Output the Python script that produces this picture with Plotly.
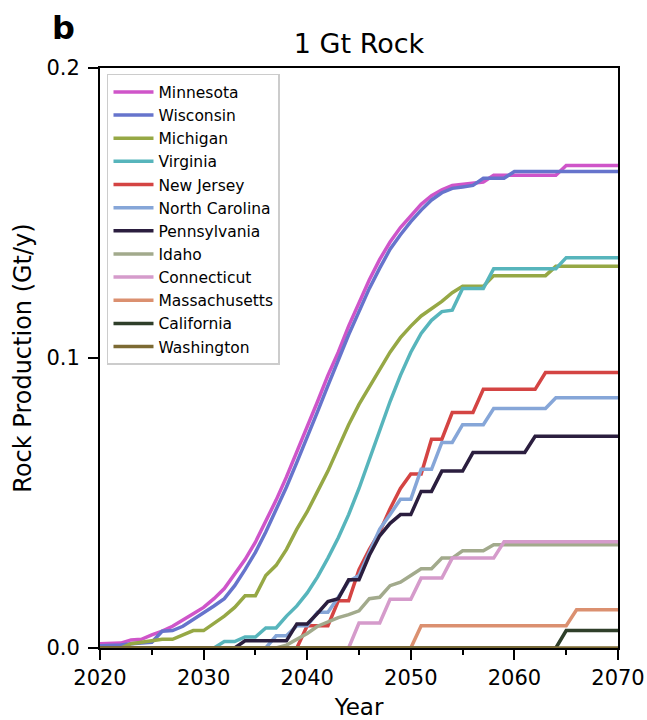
import plotly.graph_objects as go

years = list(range(2020, 2071))

minnesota = [0.0015, 0.0015, 0.0017, 0.0028, 0.0030, 0.0045, 0.0058, 0.0075, 0.0098, 0.0118,
             0.0140, 0.0170, 0.0205, 0.0255, 0.0305, 0.0365, 0.0435, 0.0510, 0.0590, 0.0675,
             0.0760, 0.0850, 0.0940, 0.1020, 0.1110, 0.1190, 0.1270, 0.1340, 0.1400, 0.1450,
             0.1490, 0.1530, 0.1560, 0.1580, 0.1595, 0.1600, 0.1605, 0.1607, 0.1630, 0.1630,
             0.1630, 0.1630, 0.1630, 0.1630, 0.1630, 0.1664, 0.1664, 0.1664, 0.1664, 0.1664,
             0.1664]
wisconsin = [0.0008, 0.0008, 0.0010, 0.0015, 0.0018, 0.0020, 0.0058, 0.0060, 0.0075, 0.0098,
             0.0120, 0.0145, 0.0170, 0.0215, 0.0270, 0.0330, 0.0400, 0.0475, 0.0555, 0.0640,
             0.0725, 0.0815, 0.0905, 0.0995, 0.1080, 0.1160, 0.1240, 0.1310, 0.1375, 0.1425,
             0.1470, 0.1510, 0.1545, 0.1570, 0.1585, 0.1590, 0.1595, 0.1620, 0.1620, 0.1620,
             0.1643, 0.1643, 0.1643, 0.1643, 0.1643, 0.1643, 0.1643, 0.1643, 0.1643, 0.1643,
             0.1643]
michigan = [0.0, 0.0, 0.0, 0.0015, 0.0020, 0.0025, 0.0030, 0.0030, 0.0045, 0.0060,
            0.0060, 0.0085, 0.0110, 0.0140, 0.0180, 0.0180, 0.0250, 0.0285, 0.0340, 0.0410,
            0.0470, 0.0540, 0.0610, 0.0690, 0.0770, 0.0840, 0.0900, 0.0965, 0.1020, 0.1070,
            0.1110, 0.1145, 0.1170, 0.1195, 0.1225, 0.1247, 0.1247, 0.1247, 0.1284, 0.1284,
            0.1284, 0.1284, 0.1284, 0.1284, 0.1316, 0.1316, 0.1316, 0.1316, 0.1316, 0.1316,
            0.1316]
virginia = [0.0, 0.0, 0.0, 0.0, 0.0, 0.0, 0.0, 0.0, 0.0, 0.0,
            0.0, 0.0, 0.0022, 0.0022, 0.0038, 0.0038, 0.0069, 0.0069, 0.0110, 0.0145,
            0.0190, 0.0245, 0.0310, 0.0380, 0.0460, 0.0550, 0.0650, 0.0750, 0.0850, 0.0940,
            0.1020, 0.1085, 0.1130, 0.1160, 0.1165, 0.1240, 0.1240, 0.1240, 0.1308, 0.1308,
            0.1308, 0.1308, 0.1308, 0.1308, 0.1308, 0.1346, 0.1346, 0.1346, 0.1346, 0.1346,
            0.1346]
new_jersey = [0.0, 0.0, 0.0, 0.0, 0.0, 0.0, 0.0, 0.0, 0.0, 0.0,
              0.0, 0.0, 0.0, 0.0, 0.0, 0.0, 0.0, 0.0, 0.0, 0.0,
              0.0077, 0.0077, 0.0077, 0.0163, 0.0163, 0.0270, 0.0340, 0.0400, 0.0480, 0.0550,
              0.0600, 0.0600, 0.0720, 0.0720, 0.0812, 0.0812, 0.0812, 0.0892, 0.0892, 0.0892,
              0.0892, 0.0892, 0.0892, 0.0950, 0.0950, 0.0950, 0.0950, 0.0950, 0.0950, 0.0950,
              0.0950]
north_carolina = [0.0, 0.0, 0.0, 0.0, 0.0, 0.0, 0.0, 0.0, 0.0, 0.0,
                  0.0, 0.0, 0.0, 0.0, 0.0, 0.0, 0.0, 0.0042, 0.0042, 0.0077,
                  0.0077, 0.0123, 0.0123, 0.0175, 0.0230, 0.0250, 0.0330, 0.0410, 0.0460, 0.0513,
                  0.0513, 0.0616, 0.0616, 0.0709, 0.0709, 0.0770, 0.0770, 0.0770, 0.0826, 0.0826,
                  0.0826, 0.0826, 0.0826, 0.0826, 0.0863, 0.0863, 0.0863, 0.0863, 0.0863, 0.0863,
                  0.0863]
pennsylvania = [0.0, 0.0, 0.0, 0.0, 0.0, 0.0, 0.0, 0.0, 0.0, 0.0,
                0.0, 0.0, 0.0, 0.0, 0.0025, 0.0025, 0.0025, 0.0025, 0.0025, 0.0083,
                0.0083, 0.0120, 0.0160, 0.0170, 0.0235, 0.0235, 0.0320, 0.0387, 0.0430, 0.0460,
                0.0460, 0.0540, 0.0540, 0.0610, 0.0610, 0.0610, 0.0674, 0.0674, 0.0674, 0.0674,
                0.0674, 0.0674, 0.0730, 0.0730, 0.0730, 0.0730, 0.0730, 0.0730, 0.0730, 0.0730,
                0.0730]
idaho = [0.0, 0.0, 0.0, 0.0, 0.0, 0.0, 0.0, 0.0, 0.0, 0.0,
         0.0, 0.0, 0.0, 0.0, 0.0, 0.0, 0.0, 0.0, 0.0010, 0.0030,
         0.0050, 0.0075, 0.0090, 0.0105, 0.0115, 0.0128, 0.0170, 0.0175, 0.0215, 0.0227,
         0.0250, 0.0273, 0.0273, 0.0310, 0.0310, 0.0335, 0.0335, 0.0335, 0.0356, 0.0356,
         0.0356, 0.0356, 0.0356, 0.0356, 0.0356, 0.0356, 0.0356, 0.0356, 0.0356, 0.0356,
         0.0356]
connecticut = [0.0, 0.0, 0.0, 0.0, 0.0, 0.0, 0.0, 0.0, 0.0, 0.0,
               0.0, 0.0, 0.0, 0.0, 0.0, 0.0, 0.0, 0.0, 0.0, 0.0,
               0.0, 0.0, 0.0, 0.0, 0.0, 0.0086, 0.0086, 0.0086, 0.0168, 0.0168,
               0.0168, 0.0241, 0.0241, 0.0241, 0.0310, 0.0310, 0.0310, 0.0310, 0.0310, 0.0366,
               0.0366, 0.0366, 0.0366, 0.0366, 0.0366, 0.0366, 0.0366, 0.0366, 0.0366, 0.0366,
               0.0366]
massachusetts = [0.0, 0.0, 0.0, 0.0, 0.0, 0.0, 0.0, 0.0, 0.0, 0.0,
                 0.0, 0.0, 0.0, 0.0, 0.0, 0.0, 0.0, 0.0, 0.0, 0.0,
                 0.0, 0.0, 0.0, 0.0, 0.0, 0.0, 0.0, 0.0, 0.0, 0.0,
                 0.0, 0.0077, 0.0077, 0.0077, 0.0077, 0.0077, 0.0077, 0.0077, 0.0077, 0.0077,
                 0.0077, 0.0077, 0.0077, 0.0077, 0.0077, 0.0077, 0.0132, 0.0132, 0.0132, 0.0132,
                 0.0132]
california = [0.0, 0.0, 0.0, 0.0, 0.0, 0.0, 0.0, 0.0, 0.0, 0.0,
              0.0, 0.0, 0.0, 0.0, 0.0, 0.0, 0.0, 0.0, 0.0, 0.0,
              0.0, 0.0, 0.0, 0.0, 0.0, 0.0, 0.0, 0.0, 0.0, 0.0,
              0.0, 0.0, 0.0, 0.0, 0.0, 0.0, 0.0, 0.0, 0.0, 0.0,
              0.0, 0.0, 0.0, 0.0, 0.0, 0.0060, 0.0060, 0.0060, 0.0060, 0.0060,
              0.0060]
washington = [0.0, 0.0, 0.0, 0.0, 0.0, 0.0, 0.0, 0.0, 0.0, 0.0,
              0.0, 0.0, 0.0, 0.0, 0.0, 0.0, 0.0, 0.0, 0.0, 0.0,
              0.0, 0.0, 0.0, 0.0, 0.0, 0.0, 0.0, 0.0, 0.0, 0.0,
              0.0, 0.0, 0.0, 0.0, 0.0, 0.0, 0.0, 0.0, 0.0, 0.0,
              0.0, 0.0, 0.0, 0.0, 0.0, 0.0, 0.0, 0.0, 0.0, 0.0,
              0.0]

state_names = ["Minnesota", "Wisconsin", "Michigan", "Virginia", "New Jersey",
               "North Carolina", "Pennsylvania", "Idaho", "Connecticut",
               "Massachusetts", "California", "Washington"]
state_values = [minnesota, wisconsin, michigan, virginia, new_jersey, north_carolina,
                pennsylvania, idaho, connecticut, massachusetts, california, washington]
state_colors = ["#CF55C9", "#6674CC", "#96A845", "#57B5BC", "#D44443", "#86A6D8",
                "#2B1E3F", "#A2AA8C", "#D59BCB", "#DB9070", "#2F3F2A", "#7C6A33"]

FONT = "DejaVu Sans"

fig = go.Figure()
for name, vals, col in zip(state_names, state_values, state_colors):
    fig.add_trace(go.Scatter(x=years, y=vals, mode="lines", name=name,
                             legendgroup=name,
                             line=dict(color=col, width=3.5)))

fig.update_layout(
    width=647, height=720,
    margin=dict(l=100, r=29, t=68, b=72, autoexpand=False),
    paper_bgcolor="white", plot_bgcolor="white",
    font=dict(family=FONT, color="black"),
    title=dict(text="1 Gt Rock", x=359 / 647, xanchor="center",
               y=1 - 44 / 720, yanchor="middle", yref="container",
               font=dict(size=27, family=FONT, color="black")),
    showlegend=True,
    legend=dict(x=0.0135, y=0.99, xanchor="left", yanchor="top",
                bgcolor="white", bordercolor="#cccccc", borderwidth=1.5,
                font=dict(size=15.5, family=FONT, color="black"),
                tracegroupgap=0, itemwidth=40),
)

fig.update_xaxes(range=[2020, 2070], dtick=10, tick0=2020, automargin=False,
                 showgrid=False, zeroline=False,
                 showline=True, linecolor="black", linewidth=2, mirror=True,
                 ticks="outside", ticklen=10, tickwidth=2, tickcolor="black",
                 tickfont=dict(size=21, family=FONT), ticklabelstandoff=0,
                 minor=dict(dtick=5, ticks="outside", ticklen=5, tickwidth=2,
                            tickcolor="black", showgrid=False),
                 title=dict(text="Year", font=dict(size=23, family=FONT), standoff=10))
fig.update_yaxes(range=[0, 0.2], dtick=0.1, tick0=0, tickformat=".1f", automargin=False,
                 showgrid=False, zeroline=False,
                 showline=True, linecolor="black", linewidth=2, mirror=True,
                 ticks="outside", ticklen=10, tickwidth=2, tickcolor="black",
                 tickfont=dict(size=21, family=FONT), ticklabelstandoff=4,
                 title=dict(text="Rock Production (Gt/y)", font=dict(size=24, family=FONT),
                            standoff=8))

fig.add_annotation(text="<b>b</b>", xref="paper", yref="paper",
                   x=(50 - 100) / 518, y=1 + (68 - 28) / 580,
                   xanchor="left", yanchor="middle", showarrow=False,
                   font=dict(size=32, family=FONT, color="black"))

fig.write_html("out.html")
